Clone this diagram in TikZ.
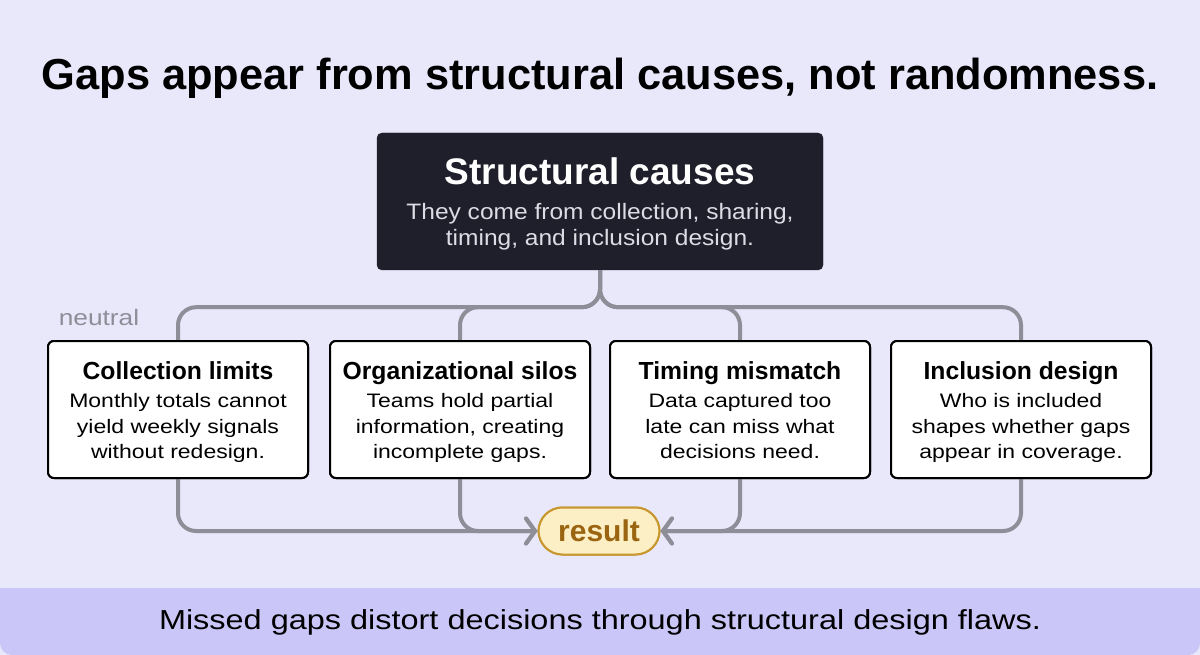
\documentclass[tikz,border=0pt]{standalone}
\usepackage{fontspec}
\setmainfont{Liberation Sans}
\newfontfamily\regsans[FakeStretch=1.18]{Liberation Sans}
\newfontfamily\subsans[FakeStretch=1.1]{Liberation Sans}
\usetikzlibrary{arrows.meta}
\definecolor{bg}{HTML}{E9E8FB}
\definecolor{band}{HTML}{CBC6F8}
\definecolor{dark}{HTML}{1F1E2B}
\definecolor{conn}{HTML}{8E8E98}
\definecolor{resfill}{HTML}{FCEFC5}
\definecolor{resdraw}{HTML}{C8972F}
\definecolor{restext}{HTML}{9A6411}
\definecolor{subtext}{HTML}{DCDCE4}
\tikzset{
  txt/.style={inner sep=0pt, anchor=base},
  darkbox/.style={fill=dark, draw=dark, rounded corners=5pt, inner sep=0pt},
  card/.style={fill=white, draw=black, line width=2pt, rounded corners=6pt, minimum width=260pt, minimum height=137pt, inner sep=0pt},
  cardtitle/.style={txt, font=\fontsize{24.7}{28}\selectfont\bfseries},
  cardbody/.style={txt, font=\regsans\fontsize{19.5}{24}\selectfont},
  conn/.style={draw=conn, line width=4pt, rounded corners=18pt},
  arr/.style={conn, -{Straight Barb[length=9pt, width=25pt, line width=4pt, line cap=round]}},
  resnode/.style={fill=resfill, draw=resdraw, line width=2pt, rounded corners=24pt, minimum width=121pt, minimum height=47pt, inner sep=0pt}
}
\begin{document}
\begin{tikzpicture}[x=1pt,y=-1pt]
\useasboundingbox (0,0) rectangle (1200,655);
\fill[bg] (0,0) rectangle (1200,655);
\fill[band] (0,588) -- (1200,588) [rounded corners=12pt] -- (1200,655) -- (0,655) [sharp corners] -- cycle;

\node[txt, font=\fontsize{43.4}{48}\selectfont\bfseries] (title) at (600,90) {Gaps appear from structural causes, not randomness.};

\node[darkbox, minimum width=446pt, minimum height=137pt] (top) at (600,201.5) {};
\node[txt, text=white, font=\fontsize{37}{40}\selectfont\bfseries] (toptitle) at (600,185) {Structural causes};
\node[txt, text=subtext, font=\subsans\fontsize{22.3}{26}\selectfont] (topsub1) at (600,219.5) {They come from collection, sharing,};
\node[txt, text=subtext, font=\subsans\fontsize{22.3}{26}\selectfont] (topsub2) at (600,245.5) {timing, and inclusion design.};

\node[txt, text=conn, font=\regsans\fontsize{22.3}{26}\selectfont] (neutral) at (99,325) {neutral};

\node[card] (c1) at (178,409.5) {};
\node[card] (c2) at (460,409.5) {};
\node[card] (c3) at (740,409.5) {};
\node[card] (c4) at (1021,409.5) {};

\node[resnode] (res) at (599,531) {};

\foreach \c in {c1,c2,c3,c4}{
  \draw[conn] (top.south) -- ([yshift=-37pt]top.south) -| (\c.north);
}
\draw[arr] (c1.south) |- (res.west);
\draw[arr] (c2.south) |- (res.west);
\draw[arr] (c3.south) |- (res.east);
\draw[arr] (c4.south) |- (res.east);

% cards and result drawn again above the connectors
\node[card] (c1b) at (c1) {};
\node[card] (c2b) at (c2) {};
\node[card] (c3b) at (c3) {};
\node[card] (c4b) at (c4) {};
\node[resnode] (resb) at (res) {};
\node[txt, text=restext, font=\fontsize{30}{34}\selectfont\bfseries] (restxt) at (599,541.7) {result};

\node[cardtitle] (t1) at (178,379) {Collection limits};
\node[cardbody] (b1a) at (178,407.7) {Monthly totals cannot};
\node[cardbody] (b1b) at (178,433) {yield weekly signals};
\node[cardbody] (b1c) at (178,458.3) {without redesign.};

\node[cardtitle] (t2) at (460,379) {Organizational silos};
\node[cardbody] (b2a) at (460,407.7) {Teams hold partial};
\node[cardbody] (b2b) at (460,433) {information, creating};
\node[cardbody] (b2c) at (460,458.3) {incomplete gaps.};

\node[cardtitle] (t3) at (740,379) {Timing mismatch};
\node[cardbody] (b3a) at (740,407.7) {Data captured too};
\node[cardbody] (b3b) at (740,433) {late can miss what};
\node[cardbody] (b3c) at (740,458.3) {decisions need.};

\node[cardtitle] (t4) at (1021,379) {Inclusion design};
\node[cardbody] (b4a) at (1021,407.7) {Who is included};
\node[cardbody] (b4b) at (1021,433) {shapes whether gaps};
\node[cardbody] (b4c) at (1021,458.3) {appear in coverage.};

\node[txt, font=\regsans\fontsize{27.5}{32}\selectfont] (bottom) at (600,629.3) {Missed gaps distort decisions through structural design flaws.};
\end{tikzpicture}
\end{document}
